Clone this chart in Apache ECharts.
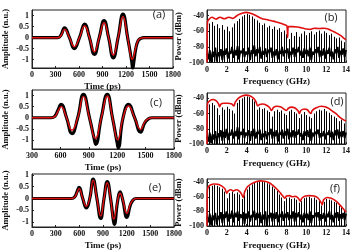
<!DOCTYPE html>
<html>
<head>
<meta charset="utf-8">
<script src="https://cdn.jsdelivr.net/npm/echarts@6/dist/echarts.min.js"></script>
<style>
  html, body { margin: 0; padding: 0; background: #fff; }
  #chart { width: 353px; height: 251px; }
</style>
</head>
<body>
<div id="chart"></div>
<script>
// ---- time-domain pulses: [time ps, amplitude n.u.] ----
const fitA = [[0,0],[330,0],[370,0.1],[415,0.38],[478,0],[540,-0.41],[606,0],[672,0.53],[734,0],[796,-0.64],[858,0],[920,0.68],[978,0],[1037,-0.79],[1099,0],[1161,0.95],[1221,0],[1281,-0.98],[1325,-0.45],[1355,-0.12],[1390,-0.02],[1430,0],[1800,0]];
const measA = [[0,0],[330,0],[370,0.12],[415,0.45],[478,0],[540,-0.5],[606,0],[672,0.62],[734,0],[796,-0.76],[858,0],[920,0.78],[978,0],[1037,-0.92],[1099,0],[1161,1.07],[1221,0],[1272,-1.05],[1286,-1.4],[1300,-1.1],[1325,-0.5],[1355,-0.14],[1390,-0.03],[1430,0],[1800,0]];

const fitC = [[300,0],[500,0],[540,0.05],[575,0.3],[607,0.5],[665,0],[722,-0.56],[783,0],[843,0.95],[907,0],[970,-0.94],[1032,0],[1095,0.98],[1150,0],[1205,-1.0],[1262,0],[1320,0.53],[1384,0],[1447,-0.53],[1490,-0.2],[1530,-0.04],[1570,0],[1800,0]];
const measC = [[300,0],[500,0],[540,0.06],[575,0.35],[607,0.6],[665,0],[722,-0.72],[783,0],[843,1.05],[907,0],[962,-1.05],[972,-1.2],[1032,0],[1095,1.05],[1150,0],[1200,-1.15],[1210,-1.35],[1262,0],[1320,0.6],[1384,0],[1447,-0.65],[1490,-0.24],[1530,-0.05],[1570,0],[1800,0]];

const fitE = [[0,0],[500,0],[540,0.05],[570,0.25],[597,0.42],[643,0],[688,-0.33],[732,0],[775,0.78],[823,0],[871,-0.75],[913,0],[954,0.67],[996,0],[1037,-0.87],[1085,-0.1],[1116,0.22],[1150,-0.05],[1203,-0.63],[1245,-0.25],[1280,-0.06],[1320,0],[1800,0]];
const measE = [[0,0],[500,0],[540,0.06],[570,0.28],[597,0.47],[643,0],[688,-0.4],[732,0],[775,0.82],[823,0],[871,-0.85],[913,0],[954,0.72],[996,0],[1032,-0.95],[1042,-1.1],[1085,-0.12],[1116,0.28],[1150,-0.06],[1203,-0.8],[1245,-0.3],[1280,-0.07],[1320,0],[1800,0]];

// ---- spectra: red envelope [GHz, dBm] ----
const envB = [[0,-100],[0.05,-48],[0.25,-44],[0.5,-42],[0.9,-44.5],[1.3,-42],[1.75,-44],[2.2,-42],[2.6,-43.5],[3.0,-40],[3.3,-38],[3.6,-36.5],[3.95,-35.8],[4.3,-36.5],[4.7,-38.5],[5.1,-41],[5.5,-43.5],[6.0,-45],[6.5,-46.5],[7.0,-48],[7.5,-50],[7.9,-52],[8.05,-53],[8.12,-68],[8.2,-54],[8.6,-54],[9.1,-54.5],[9.5,-55.5],[10.0,-57],[10.4,-57.5],[10.8,-56],[11.3,-56.5],[11.8,-56],[12.2,-57],[12.6,-59.5],[13.0,-62],[13.4,-65],[13.8,-69],[14,-71]];
const envD = [[0,-100],[0.05,-47],[0.3,-43],[0.6,-41.5],[0.9,-43],[1.15,-47],[1.27,-51],[1.4,-47.5],[1.7,-46.5],[2.1,-46.5],[2.5,-47.5],[2.7,-50],[2.85,-45],[3.2,-39.5],[3.6,-36.5],[3.95,-35.8],[4.3,-36.5],[4.7,-40],[4.95,-45],[5.1,-50],[5.3,-48],[5.6,-47.5],[6.0,-49],[6.3,-52],[6.5,-56],[6.7,-52],[7.05,-50.5],[7.45,-51.5],[7.85,-55],[8.0,-56],[8.2,-53],[8.5,-51.5],[8.9,-53],[9.2,-57],[9.3,-60],[9.45,-56],[9.8,-54],[10.1,-55],[10.35,-59],[10.45,-60],[10.6,-56],[11.0,-52.5],[11.5,-50.5],[11.9,-51],[12.3,-53.5],[12.7,-57.5],[13.0,-60],[13.3,-64],[13.6,-67],[14,-70]];
const envF = [[0,-100],[0.03,-52],[0.15,-46],[0.4,-43.5],[0.7,-42.5],[1.1,-43],[1.5,-45.5],[1.8,-49],[2.0,-55],[2.15,-52],[2.4,-50.5],[2.65,-52],[2.8,-51],[3.0,-50.5],[3.3,-53],[3.55,-58],[3.65,-61],[3.8,-53],[4.1,-46],[4.5,-42],[5.0,-39],[5.4,-38.2],[5.8,-38.8],[6.2,-40.5],[6.6,-44],[7.0,-49],[7.4,-55],[7.7,-60],[7.85,-62],[8.0,-59],[8.3,-58.5],[8.6,-60],[8.9,-59.5],[9.2,-62],[9.4,-66],[9.55,-62],[9.9,-59],[10.3,-58.5],[10.8,-59],[11.2,-62],[11.5,-68],[11.6,-71],[11.75,-64],[12.1,-61],[12.5,-62],[12.9,-65],[13.3,-70],[13.7,-76],[14,-81]];

// comb line heights (dBm), one per 0.25 GHz from 0.25 to 14
const combStep = 0.25;
const combB = [-50,-48,-53,-51,-56,-52,-58,-54,-60,-55,-50,-47,-44,-41,-39,-37.5,-39,-41,-44,-46,-49,-52,-50,-55,-53,-57,-54,-58,-56,-61,-59,-64,-70,-62,-66,-61,-67,-63,-60,-65,-62,-60,-64,-61,-59,-63,-60,-62,-65,-63,-67,-69,-68,-72,-74,-77];
const combD = [-48,-46,-49,-53,-62,-52,-55,-51,-54,-56,-60,-46,-42,-40,-38,-37.5,-38.5,-41,-44,-55,-52,-54,-53,-56,-58,-64,-57,-55,-58,-56,-60,-62,-57,-55,-58,-60,-66,-61,-58,-62,-64,-66,-60,-57,-55,-56,-54,-57,-59,-62,-64,-66,-70,-68,-73,-76];
const combF = [-46,-45,-44,-45,-47,-49,-53,-62,-55,-53,-56,-54,-57,-63,-58,-50,-46,-43,-41,-40,-39.5,-39,-40,-41.5,-43,-46,-49,-52,-57,-61,-66,-62,-61,-63,-62,-64,-68,-66,-62,-61,-60,-62,-61,-64,-66,-72,-67,-63,-64,-65,-67,-68,-72,-75,-78,-82];

// noise floor (dBm), evenly spread over 0..14 GHz
const noiseB = [-88,-96,-84,-100,-86,-93,-81,-99,-87,-92,-83,-97,-85,-90,-82,-95,-86,-89,-80,-94,-84,-91,-79,-96,-85,-88,-82,-93,-86,-90,-81,-97,-84,-89,-78,-92,-83,-88,-80,-95,-85,-90,-82,-93,-84,-87,-81,-94,-86,-91,-83,-96,-85,-89,-80,-92,-84,-88,-82,-95,-86,-90,-81,-93,-83,-87,-80,-91,-85,-94,-82,-89,-84,-92,-81,-97,-86,-90,-83,-88,-80,-93,-85,-91,-82,-95,-84,-89,-81,-92,-86,-96,-83,-88,-80,-94,-85,-90,-82,-93,-84];
const noiseD = [-90,-97,-85,-99,-87,-94,-83,-100,-86,-91,-82,-96,-84,-92,-80,-95,-85,-89,-81,-93,-83,-90,-78,-94,-84,-88,-80,-92,-85,-89,-82,-96,-83,-90,-80,-93,-84,-87,-81,-95,-86,-91,-83,-94,-85,-88,-80,-93,-84,-90,-82,-97,-85,-88,-81,-93,-83,-89,-80,-94,-85,-91,-82,-92,-84,-88,-81,-90,-86,-95,-83,-89,-82,-91,-80,-96,-85,-90,-84,-87,-81,-92,-86,-90,-83,-94,-85,-88,-82,-91,-84,-95,-82,-89,-81,-93,-84,-91,-83,-92,-85];
const noiseF = [-87,-95,-83,-99,-85,-92,-82,-98,-86,-91,-81,-96,-84,-89,-80,-94,-83,-90,-79,-95,-82,-88,-80,-93,-84,-89,-81,-97,-83,-90,-80,-94,-85,-88,-79,-92,-82,-89,-81,-96,-84,-91,-80,-100,-85,-89,-82,-94,-83,-90,-81,-95,-84,-88,-80,-93,-83,-89,-81,-92,-85,-90,-80,-94,-82,-88,-81,-91,-84,-95,-82,-89,-83,-92,-80,-96,-85,-89,-82,-88,-81,-93,-84,-90,-82,-94,-83,-88,-80,-91,-85,-95,-82,-89,-81,-93,-84,-90,-82,-92,-83];

const ampTicks = [-1, -0.5, 0, 0.5, 1];
const panelLetters = ['(a)', '(b)', '(c)', '(d)', '(e)', '(f)'];

const chart = echarts.init(document.getElementById('chart'), null, { renderer: 'canvas' });

const serif = 'Liberation Serif';
const ink = '#111';

const grids = [
  { left: 29, top: 10, width: 144, height: 58 },
  { left: 207, top: 10, width: 141, height: 52.5 },
  { left: 29, top: 90, width: 145, height: 59 },
  { left: 207, top: 93, width: 141, height: 51 },
  { left: 29, top: 174, width: 145, height: 62 },
  { left: 207, top: 179, width: 140, height: 50 }
].map(g => Object.assign(g, { show: true, borderColor: '#222', borderWidth: 1, backgroundColor: '#fff' }));

const plain = v => String(v);

function xAxisFor(i, min, max, interval, name, gap) {
  return {
    type: 'value', gridIndex: i, min: min, max: max, interval: interval,
    name: name, nameLocation: 'middle', nameGap: gap,
    nameTextStyle: { fontFamily: serif, fontWeight: 'bold', fontSize: 9, color: ink },
    axisLine: { show: true, onZero: false, lineStyle: { color: '#222' } },
    axisTick: { show: true, inside: true, length: 2, lineStyle: { color: '#222' } },
    axisLabel: { fontFamily: serif, fontWeight: 'bold', fontSize: 8, color: ink, margin: 3, formatter: plain },
    splitLine: { show: false }
  };
}
function yAmp(i, min, max, gap) {
  return {
    type: 'value', gridIndex: i, min: min, max: max,
    name: 'Amplitude (n.u.)', nameLocation: 'middle', nameGap: gap,
    nameTextStyle: { fontFamily: serif, fontWeight: 'bold', fontSize: 8.5, color: ink },
    axisLine: { show: true, onZero: false, lineStyle: { color: '#222' } },
    axisTick: { show: true, inside: true, length: 2, customValues: ampTicks, lineStyle: { color: '#222' } },
    axisLabel: { fontFamily: serif, fontWeight: 'bold', fontSize: 8, color: ink, margin: 3, customValues: ampTicks, formatter: plain },
    splitLine: { show: false }
  };
}
function yPow(i, max) {
  return {
    type: 'value', gridIndex: i, min: -100, max: max, interval: 20,
    name: 'Power (dBm)', nameLocation: 'middle', nameGap: 24,
    nameTextStyle: { fontFamily: serif, fontWeight: 'bold', fontSize: 8.5, color: ink },
    axisLine: { show: true, onZero: false, lineStyle: { color: '#222' } },
    axisTick: { show: true, inside: true, length: 2, lineStyle: { color: '#222' } },
    axisLabel: { fontFamily: serif, fontWeight: 'bold', fontSize: 8, color: ink, margin: 3, showMaxLabel: false, formatter: plain },
    splitLine: { show: false }
  };
}

const xAxes = [
  xAxisFor(0, 0, 1800, 300, 'Time (ps)', 14),
  xAxisFor(1, 0, 14, 2, 'Frequency (GHz)', 15),
  xAxisFor(2, 300, 1800, 300, 'Time (ps)', 14),
  xAxisFor(3, 0, 14, 2, 'Frequency (GHz)', 15),
  xAxisFor(4, 0, 1800, 300, 'Time (ps)', 14),
  xAxisFor(5, 0, 14, 2, 'Frequency (GHz)', 15)
];
const yAxes = [
  yAmp(0, -1.38, 1.26, 22),
  yPow(1, -32.7),
  yAmp(2, -1.41, 1.25, 22),
  yPow(3, -33),
  yAmp(4, -1.21, 1.04, 22),
  yPow(5, -35.7)
];

function pulseSeries(idx, meas, fit) {
  return [
    { type: 'line', xAxisIndex: idx, yAxisIndex: idx, data: meas, smooth: 0.5, symbol: 'none',
      lineStyle: { color: '#000', width: 3.2 }, z: 2, silent: true },
    { type: 'line', xAxisIndex: idx, yAxisIndex: idx, data: fit, smooth: 0.5, symbol: 'none',
      lineStyle: { color: '#e01010', width: 1.4 }, z: 3, silent: true }
  ];
}

function combItem(params, api) {
  const top = api.coord([api.value(0), api.value(1)]);
  const base = api.coord([api.value(0), -100]);
  const x = Math.round(top[0]) + 0.5;
  return { type: 'line', shape: { x1: x, y1: base[1], x2: x, y2: top[1] },
           style: { stroke: '#000', lineWidth: 1 } };
}

function spectrumSeries(idx, comb, noise, env) {
  const combData = comb.map((v, k) => [(k + 1) * combStep, v]);
  const noiseData = noise.map((v, k) => [k * 14 / (noise.length - 1), v]);
  return [
    { type: 'custom', xAxisIndex: idx, yAxisIndex: idx, data: combData, renderItem: combItem,
      encode: { x: 0, y: 1 }, clip: true, z: 2, silent: true },
    { type: 'line', xAxisIndex: idx, yAxisIndex: idx, data: noiseData, symbol: 'none',
      lineStyle: { color: '#000', width: 1.8 }, z: 2, silent: true },
    { type: 'line', xAxisIndex: idx, yAxisIndex: idx, data: env, smooth: 0.35, symbol: 'none',
      lineStyle: { color: '#e01010', width: 1.6 }, z: 3, silent: true, clip: true }
  ];
}

const letterPos = [[159, 15], [331, 18], [156, 103], [337, 102], [155, 188], [335, 189]];

chart.setOption({
  animation: false,
  grid: grids,
  xAxis: xAxes,
  yAxis: yAxes,
  series: [].concat(
    pulseSeries(0, measA, fitA),
    spectrumSeries(1, combB, noiseB, envB),
    pulseSeries(2, measC, fitC),
    spectrumSeries(3, combD, noiseD, envD),
    pulseSeries(4, measE, fitE),
    spectrumSeries(5, combF, noiseF, envF)
  ),
  graphic: panelLetters.map((t, k) => ({
    type: 'text', x: letterPos[k][0], y: letterPos[k][1], z: 10,
    style: { text: t, fill: '#222', font: '11px "Open Sans", sans-serif', align: 'center', verticalAlign: 'middle' }
  }))
});
</script>
</body>
</html>
